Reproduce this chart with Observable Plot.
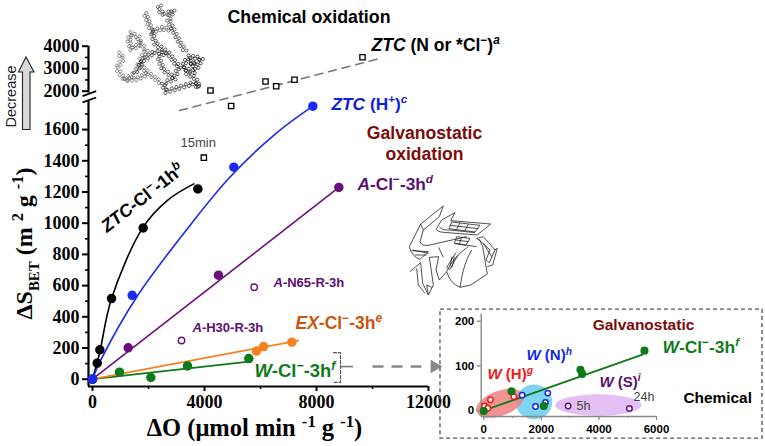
<!DOCTYPE html>
<html><head><meta charset="utf-8">
<script src="https://cdn.jsdelivr.net/npm/d3@7"></script>
<script src="https://cdn.jsdelivr.net/npm/@observablehq/plot@0.6"></script>
<style>
html,body{margin:0;padding:0;background:#fff}
#wrap{position:relative;width:765px;height:446px;overflow:hidden}
#wrap svg{position:absolute;left:0;top:0;background:transparent}
</style></head><body><div id="wrap"></div>
<script>
// ---- main chart data (ΔO, ΔS) ----
const blackPts=[[0,0],[167,103],[262,188],[679,517],[1810,970],[3762,1220]];
const blackCurve=[[0,0],[170,110],[280,190],[680,517],[1810,975],[2700,1150],[3620,1252]];
const bluePts=[[0,0],[1417,538],[5048,1359],[7869,1750]];
const blueCurve=[[0,0],[290,120],[1620,538],[3619,1017],[4929,1299],[6536,1573],[7869,1750]];
const purplePts=[[0,0],[1274,201],[4500,667],[8798,1229]];
const purpleLine=[[0,0],[8798,1229]];
const purpleOpen=[[5774,590],[3179,248]];
const orangePts=[[5857,180],[6107,209],[7119,237]];
const orangeLine=[[0,0],[7345,248]];
const greenPts=[[0,0],[964,45],[2083,11],[3393,85],[5583,132]];
const greenLine=[[0,0],[5583,113]];
const squares=[[4214,2031],[4952,1751],[6179,2431],[6560,2222],[7214,2506],[9643,3511],[3976,1420]];
const dashedFit=[[3107,1722],[10345,3484]];
// ---- inset data ----
const inGreen=[[0,-1],[961,43],[2084,10],[3358,91],[3416,82],[5582,134]];
const inLine=[[0,0],[5512,125]];
const inRed=[[23,10],[139,5],[232,24],[1042,31]];
const inBlue=[[1332,34],[1795,9],[2142,18],[2223,39]];
const inPurple=[[2930,10],[5060,4.5]];
const inEllipses=[
 {cx:1760,cy:18,rx:637,ry:39,rot:0,fill:"#7fd4f2",op:1},
 {cx:3995,cy:11,rx:1505,ry:24,rot:0,fill:"#e4bff4",op:1},
 {cx:579,cy:15,rx:868,ry:28,rot:-20,fill:"#f08080",op:0.85}
];
// ---- ticks ----
const xMajor=[0,4000,8000,12000], xMinor=[2000,6000,10000];
const yMajor=[0,200,400,600,800,1000,1200,1400,1600,2000,3000,4000];
const yMinor=[100,300,500,700,900,1100,1300,1500,1700,2500,3500];
const inXTicks=[0,2000,4000,6000], inXMinor=[1000,3000,5000], inYTicks=[0,100,200];

const SANS="Liberation Sans, Arial, sans-serif", SERIF="Liberation Serif, Times New Roman, serif";
const PURPLE="#6a0f7a", DPURPLE="#5a1070", DRED="#7a0c0c", GREEN="#0f7a1a", BLUE="#1a2bf0", ORANGE="#f5811f";

function richify(svg){
  const ns="http://www.w3.org/2000/svg";
  svg.querySelectorAll("text").forEach(t=>{
    const s=t.textContent;
    if(!/<[a-z]>/.test(s))return;
    const fs=parseFloat(getComputedStyle(t).fontSize)||12;
    while(t.firstChild)t.removeChild(t.firstChild);
    let pending=0;
    for(const m of s.matchAll(/<([a-z])>(.*?)<\/\1>|([^<]+)/g)){
      const tag=m[1]||"", txt=m[2]??m[3], sp=document.createElementNS(ns,"tspan");
      sp.textContent=txt;
      let shift=0;
      if(tag==="i")sp.setAttribute("font-style","italic");
      if(tag==="s"||tag==="a"){shift=-0.38*fs;sp.setAttribute("font-size",fs*.68);if(tag==="a")sp.setAttribute("font-style","italic");}
      if(tag==="b"){shift=0.28*fs;sp.setAttribute("font-size",fs*.62);}
      const dy=shift+pending; if(dy)sp.setAttribute("dy",dy);
      pending=-shift;
      t.appendChild(sp);
    }
  });
}

function meshMark(){
  const g=d3.create("svg:g").attr("transform","translate(105,0) scale(0.3333)");
  const strands=[
   {c:"#555",p:[[75,100],[100,110],[105,130],[80,150],[72,125],[75,100]]},
   {c:"#666",p:[[40,160],[55,175],[35,205],[60,240],[90,220]]},
   {c:"#444",p:[[120,40],[130,65],[140,95],[170,85],[205,90]]},
   {c:"#333",p:[[165,15],[160,30],[180,45],[205,30],[190,60],[205,90]]},
   {c:"#555",p:[[105,130],[125,150],[100,190],[130,220],[170,250]]},
   {c:"#111",p:[[90,220],[115,180],[150,155],[190,165]]},
   {c:"#111",p:[[140,95],[150,130],[190,160],[220,200],[210,235],[175,250],[180,275],[215,265],[265,250],[285,265]]},
   {c:"#222",p:[[205,90],[225,130],[245,160]]},
   {c:"#000",p:[[250,170],[290,175],[270,215],[230,205],[250,170]]},
   {c:"#000",p:[[255,185],[270,195],[250,195]]},
   {c:"#222",p:[[160,170],[175,210],[210,235]]},
   {c:"#555",p:[[60,240],[100,235],[130,220]]},
   {c:"#111",p:[[240,215],[270,235],[285,265]]}
  ];
  const hex=d3.range(6).map(i=>[5*Math.cos(i*Math.PI/3),5*Math.sin(i*Math.PI/3)]);
  const hexPath="M"+hex.join("L")+"Z";
  for(const st of strands){
    let k=0;
    for(let i=1;i<st.p.length;i++){
      const [x0,y0]=st.p[i-1],[x1,y1]=st.p[i],L=Math.hypot(x1-x0,y1-y0),n=Math.max(1,Math.round(L/7));
      for(let j=0;j<n;j++,k++){
        const u=j/n,o=(k%2?4:-4);
        g.append("path").attr("d",hexPath)
         .attr("transform",`translate(${x0+(x1-x0)*u-(y1-y0)/L*o},${y0+(y1-y0)*u+(x1-x0)/L*o})`)
         .attr("fill","none").attr("stroke",st.c).attr("stroke-width",2);
      }
    }
  }
  return g.node();
}
function sketchMark(){
  const g=d3.create("svg:g").attr("transform","translate(400,200) scale(0.3333)")
   .attr("fill","none").attr("stroke","#222").attr("stroke-width",2.4).attr("stroke-linejoin","round");
  [ "M28,140 L62,72 L130,18 L118,50 L70,90 L60,125 Q65,140 90,135 L200,110",
    "M62,72 L70,90",
    "M28,140 Q35,170 60,178 L85,155 L35,152",
    "M38,150 L85,160 M45,165 L80,165",
    "M110,85 L125,60 L165,38 L152,62 L272,72 L232,105 L130,97 Q108,95 110,85",
    "M118,80 Q125,92 150,90 L225,98",
    "M155,66 L240,76 L225,96 L147,86 Z M180,68 L170,88 M205,72 L195,92 M150,76 L235,86",
    "M170,110 L210,115 L197,136 L163,130 Z M168,120 L205,125 M185,112 L178,132",
    "M165,130 L230,140",
    "M230,115 L250,110 L285,150 L268,188 L258,180 L270,150 L240,122 Z",
    "M250,130 L275,170 M283,150 L292,145 L278,195 L262,200",
    "M205,140 Q160,170 140,215 Q150,250 180,262 L212,255 L262,222 L248,140 L238,118",
    "M215,150 Q190,190 180,262",
    "M168,158 L140,202 L150,208 L174,165 M156,170 L150,200 M163,170 L156,203",
    "M30,215 L62,188 L68,250 L85,285 L100,255 L88,172 L116,170 L108,210 L118,240 L140,215",
    "M50,205 L55,255 L75,280 M85,285 L80,255 L95,262",
    "M116,142 L130,172"
  ].forEach(d=>g.append("path").attr("d",d));
  return g.node();
}
function arrowMark(){
  return d3.create("svg:path")
   .attr("d","M22.5,129.5 L22.5,72 L18.5,72 L26,57 L34,72 L30,72 L30,129.5 Z")
   .attr("fill","#d9d9d9").attr("stroke","#222").attr("stroke-width",1.1).node();
}

function makeLabel(mL,mT){
  return (txt,px,py,o={})=>Plot.text([txt],{text:d=>d,frameAnchor:"top-left",lineAnchor:"middle",textAnchor:"start",
    dx:px-mL,dy:py-mT,fontFamily:SANS,fontWeight:"bold",fontSize:17,fill:"#000",...o});
}
const L=makeLabel(88,45);
const dotOpt=c=>({x:d=>d[0],y:d=>d[1],r:4,fill:c,stroke:c});
const main=Plot.plot({
  width:765,height:446,marginLeft:88,marginRight:337,marginTop:45,marginBottom:60,
  style:{background:"transparent",overflow:"visible"},
  x:{domain:[0,12000],range:[92,428]},
  y:{type:"linear",domain:[-47,0,1800,2000,4000],range:[386,378.7,97.9,90.7,45.7]},
  marks:[
    arrowMark,meshMark,sketchMark,
    Plot.ruleY([-47],{x1:-143,x2:12000,strokeWidth:2.2,stroke:"#000"}),
    Plot.ruleX([-143],{y1:-47,y2:1780,strokeWidth:2.2,stroke:"#000"}),
    Plot.ruleX([-143],{y1:1950,y2:4000,strokeWidth:2.2,stroke:"#000"}),
    Plot.link([0],{x1:-357,x2:132,y1:1864,y2:2000,strokeWidth:1.8,stroke:"#000"}),
    Plot.link([0],{x1:-357,x2:132,y1:1774,y2:1825,strokeWidth:1.8,stroke:"#000"}),
    Plot.axisX(xMajor,{label:null,tickSize:5,strokeWidth:2,tickPadding:4,fontFamily:SERIF,fontWeight:"bold",fontSize:18,tickFormat:d=>String(d)}),
    Plot.axisX(xMinor,{label:null,tickSize:3,strokeWidth:1.6,tickFormat:()=>""}),
    Plot.axisY(yMajor,{label:null,tickSize:6,strokeWidth:2,tickPadding:3,fontFamily:SERIF,fontWeight:"bold",fontSize:18,tickFormat:d=>String(d)}),
    Plot.axisY(yMinor,{label:null,tickSize:3,strokeWidth:1.6,tickFormat:()=>""}),

    Plot.line(dashedFit,{x:d=>d[0],y:d=>d[1],stroke:"#777",strokeWidth:1.6,strokeDasharray:"8,6"}),
    Plot.line(blackCurve,{x:d=>d[0],y:d=>d[1],stroke:"#000",strokeWidth:1.6,curve:"catmull-rom"}),
    Plot.line(purpleLine,{x:d=>d[0],y:d=>d[1],stroke:PURPLE,strokeWidth:1.6}),
    Plot.line(greenLine,{x:d=>d[0],y:d=>d[1],stroke:GREEN,strokeWidth:1.8}),
    Plot.line(orangeLine,{x:d=>d[0],y:d=>d[1],stroke:ORANGE,strokeWidth:1.8}),
    Plot.line(blueCurve,{x:d=>d[0],y:d=>d[1],stroke:BLUE,strokeWidth:1.6,curve:"catmull-rom"}),
    Plot.dot(blackPts,dotOpt("#000")),
    Plot.dot(purplePts,dotOpt(PURPLE)),
    Plot.dot(greenPts,dotOpt(GREEN)),
    Plot.dot(orangePts,dotOpt(ORANGE)),
    Plot.dot(bluePts,dotOpt(BLUE)),
    Plot.dot(purpleOpen,{x:d=>d[0],y:d=>d[1],r:3.2,fill:"#fff",stroke:PURPLE,strokeWidth:1.4}),
    Plot.dot(squares,{x:d=>d[0],y:d=>d[1],symbol:"square",r:3,fill:"#fff",stroke:"#000",strokeWidth:1.3}),

    // bracket and pointer to the inset
    Plot.line([[8607,170],[8857,170],[8857,-20],[8607,-20]],{x:d=>d[0],y:d=>d[1],stroke:"#555",strokeWidth:1.2,strokeDasharray:"3,2"}),
    Plot.ruleY([81],{x1:8893,x2:9321,stroke:"#777",strokeWidth:1.6}),
    Plot.link([0],{x1:10000,y1:81,x2:11950,y2:81,stroke:"#888",strokeWidth:2.6,strokeDasharray:"11,8"}),
    Plot.dot([[12214,81]],{x:d=>d[0],y:d=>d[1],symbol:"triangle",rotate:90,r:5,fill:"#888"}),

    L("Chemical oxidation",227,17,{fontSize:17.8}),
    L("<i>ZTC</i> (N or *Cl<s>−</s>)<a>a</a>",371,45,{fontSize:17.5}),
    L("<i>ZTC</i> (H<s>+</s>)<a>c</a>",331,104,{fill:"#1020d8",fontSize:17.3}),
    L("Galvanostatic",424,133,{fill:DRED,textAnchor:"middle",fontSize:17.6}),
    L("oxidation",424,154,{fill:DRED,textAnchor:"middle",fontSize:17.6}),
    L("<i>A</i>-Cl<s>−</s>-3h<a>d</a>",357,184,{fill:DPURPLE,fontSize:17.3}),
    L("15min",180,142,{fill:"#444",fontSize:13,fontWeight:"normal"}),
    L("<i>A</i>-N65-R-3h",273,282,{fill:DPURPLE,fontSize:13}),
    L("<i>A</i>-H30-R-3h",192,327,{fill:DPURPLE,fontSize:13}),
    L("<i>EX</i>-Cl<s>−</s>-3h<a>e</a>",295,323,{fill:"#c9560f",fontSize:17.5}),
    L("<i>W</i>-Cl<s>−</s>-3h<a>f</a>",254,371,{fill:GREEN,fontSize:18.4}),
    L("<i>ZTC</i>-Cl<s>−</s>-1h<a>b</a>",103,228,{fontSize:17.8,rotate:-38,textAnchor:"start"}),
    L("Decrease",11,96,{fontWeight:"normal",fontSize:14.5,fill:"#222",rotate:-90,textAnchor:"middle"}),
    L("ΔS<b>BET</b> (m <s>2</s> g <s>-1</s>)",24,243,{fontFamily:SERIF,fontSize:24,rotate:-90,textAnchor:"middle"}),
    L("ΔO (μmol min <s>-1</s> g <s>-1</s>)",254,428,{fontFamily:SERIF,fontSize:24.5,textAnchor:"middle"})
  ]
});
const ellipseMark=(index,{x,y})=>{
  const g=d3.create("svg:g");
  for(const e of inEllipses){
    g.append("ellipse").attr("rx",Math.abs(x(e.cx+e.rx)-x(e.cx))).attr("ry",Math.abs(y(e.cy+e.ry)-y(e.cy)))
     .attr("transform",`translate(${x(e.cx)},${y(e.cy)}) rotate(${e.rot})`).attr("fill",e.fill).attr("fill-opacity",e.op);
  }
  return g.node();
};
const IL=makeLabel(480.7,313);
const inOpen=c=>({x:d=>d[0],y:d=>d[1],r:2.7,fill:"#fff",stroke:c,strokeWidth:1.5});
const inset=Plot.plot({
  width:765,height:446,marginLeft:480.7,marginRight:109,marginTop:313,marginBottom:30,
  style:{background:"transparent",overflow:"visible"},
  x:{domain:[0,6000],range:[483.3,656]},
  y:{domain:[0,200],range:[410,320.7]},
  marks:[
    Plot.rect([0],{x1:-1505,x2:9684,y1:-63,y2:226,fill:"none",stroke:"#555",strokeWidth:1.3,strokeDasharray:"4,3"}),
    ellipseMark,
    Plot.ruleY([-13.4],{x1:-90,x2:6000,stroke:"#888",strokeWidth:1.4}),
    Plot.ruleX([-90],{y1:-13.4,y2:216,stroke:"#888",strokeWidth:1.4}),
    Plot.axisX(inXTicks,{label:null,tickSize:4,stroke:"#888",fill:"#000",strokeWidth:1.3,tickPadding:4,fontFamily:SANS,fontWeight:"bold",fontSize:11.5,tickFormat:d=>String(d)}),
    Plot.axisX(inXMinor,{label:null,tickSize:2,stroke:"#888",strokeWidth:1,tickFormat:()=>""}),
    Plot.axisY(inYTicks,{label:null,tickSize:4,stroke:"#888",fill:"#000",strokeWidth:1.3,tickPadding:3,fontFamily:SANS,fontWeight:"bold",fontSize:11.5,tickFormat:d=>String(d)}),
    Plot.line(inLine,{x:d=>d[0],y:d=>d[1],stroke:GREEN,strokeWidth:1.8}),
    Plot.dot(inRed,inOpen("#f01818")),
    Plot.dot(inBlue,inOpen("#1428e0")),
    Plot.dot(inPurple,inOpen(PURPLE)),
    Plot.dot(inGreen,{x:d=>d[0],y:d=>d[1],r:3.3,fill:GREEN,stroke:GREEN}),
    IL("Galvanostatic",643,325,{fill:DRED,textAnchor:"middle",fontSize:15.5}),
    IL("<i>W</i>-Cl<s>−</s>-3h<a>f</a>",662,347,{fill:GREEN,fontSize:17.4}),
    IL("<i>W</i> (N)<a>h</a>",526,355,{fill:"#1428e0",fontSize:15}),
    IL("<i>W</i> (H)<a>g</a>",487,374,{fill:"#f01818",fontSize:15}),
    IL("<i>W</i> (S)<a>i</a>",599,381.5,{fill:DPURPLE,fontSize:15}),
    IL("24h",633,396,{fill:"#444",fontSize:12.5,fontWeight:"normal"}),
    IL("5h",576,405,{fill:"#444",fontSize:12.5,fontWeight:"normal"}),
    IL("Chemical",683,398,{fontSize:15.4})
  ]
});
const wrap=document.getElementById("wrap");
wrap.append(main,inset);
richify(main);richify(inset);
</script></body></html>
